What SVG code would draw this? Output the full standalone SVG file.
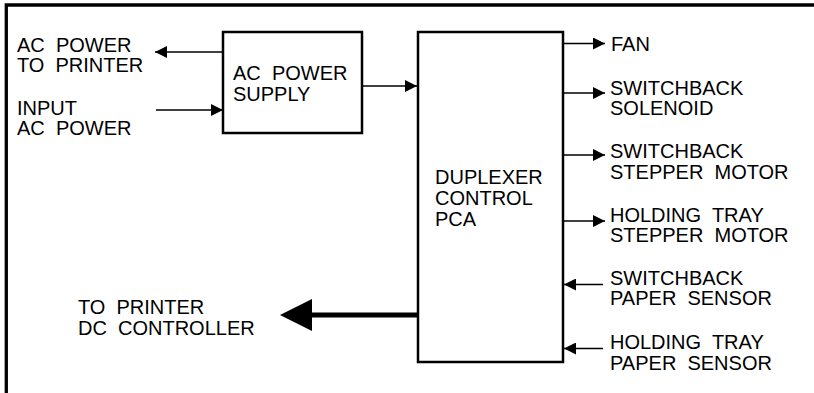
<svg xmlns="http://www.w3.org/2000/svg" width="814" height="393" viewBox="0 0 814 393">
<style>
text{font-family:"Liberation Sans",Arial,sans-serif;font-size:20px;fill:#000;white-space:pre}
.box{fill:#fff;stroke:#000;stroke-width:2.5}
.c{stroke:#000;stroke-width:1.5;fill:none}
.frame{stroke:#000;stroke-width:3.3;fill:none}
</style>
<defs>
<marker id="ah" markerUnits="userSpaceOnUse" markerWidth="12" markerHeight="12" refX="12" refY="6" orient="auto">
<path d="M0,0 L12,6 L0,12 Z" fill="#000"/>
</marker>
</defs>
<rect width="814" height="393" fill="#fff"/>
<path class="frame" d="M6.3,393 V5 H814"/>

<g id="supply">
<rect class="box" x="223" y="32" width="139" height="101"/>
<text x="233" y="80">AC  POWER</text>
<text x="233" y="101">SUPPLY</text>
</g>
<g id="duplexer">
<rect class="box" x="418" y="32" width="145" height="330"/>
<text x="435" y="184">DUPLEXER</text>
<text x="435" y="205">CONTROL</text>
<text x="435" y="226">PCA</text>
</g>

<g id="lbl-acout">
<text x="17" y="52">AC  POWER</text>
<text x="17" y="72">TO  PRINTER</text>
</g>
<g id="lbl-acin">
<text x="17" y="115">INPUT</text>
<text x="17" y="135">AC  POWER</text>
</g>
<g id="lbl-dc">
<text x="78" y="314">TO  PRINTER</text>
<text x="78" y="335">DC  CONTROLLER</text>
</g>
<g id="lbl-fan"><text x="611" y="51">FAN</text></g>
<g id="lbl-sol">
<text x="610" y="95">SWITCHBACK</text>
<text x="610" y="115">SOLENOID</text>
</g>
<g id="lbl-swm">
<text x="610" y="158">SWITCHBACK</text>
<text x="610" y="179">STEPPER  MOTOR</text>
</g>
<g id="lbl-htm">
<text x="610" y="222">HOLDING  TRAY</text>
<text x="610" y="242">STEPPER  MOTOR</text>
</g>
<g id="lbl-sps">
<text x="610" y="285">SWITCHBACK</text>
<text x="610" y="305">PAPER  SENSOR</text>
</g>
<g id="lbl-hps">
<text x="610" y="349">HOLDING  TRAY</text>
<text x="610" y="370">PAPER  SENSOR</text>
</g>

<g id="connectors">
<line class="c" x1="223" y1="52" x2="155" y2="52" marker-end="url(#ah)"/>
<line class="c" x1="156" y1="110" x2="223" y2="110" marker-end="url(#ah)"/>
<line class="c" x1="362" y1="86" x2="417" y2="86" marker-end="url(#ah)"/>
<line class="c" x1="563" y1="43.5" x2="605" y2="43.5" marker-end="url(#ah)"/>
<line class="c" x1="563" y1="93" x2="605" y2="93" marker-end="url(#ah)"/>
<line class="c" x1="563" y1="155" x2="605" y2="155" marker-end="url(#ah)"/>
<line class="c" x1="563" y1="221" x2="605" y2="221" marker-end="url(#ah)"/>
<line class="c" x1="603" y1="284.5" x2="564" y2="284.5" marker-end="url(#ah)"/>
<line class="c" x1="603" y1="348.5" x2="564" y2="348.5" marker-end="url(#ah)"/>
<line x1="418" y1="315" x2="310" y2="315" stroke="#000" stroke-width="5"/>
<polygon points="280,315 312,299 312,331" fill="#000"/>
</g>
</svg>
